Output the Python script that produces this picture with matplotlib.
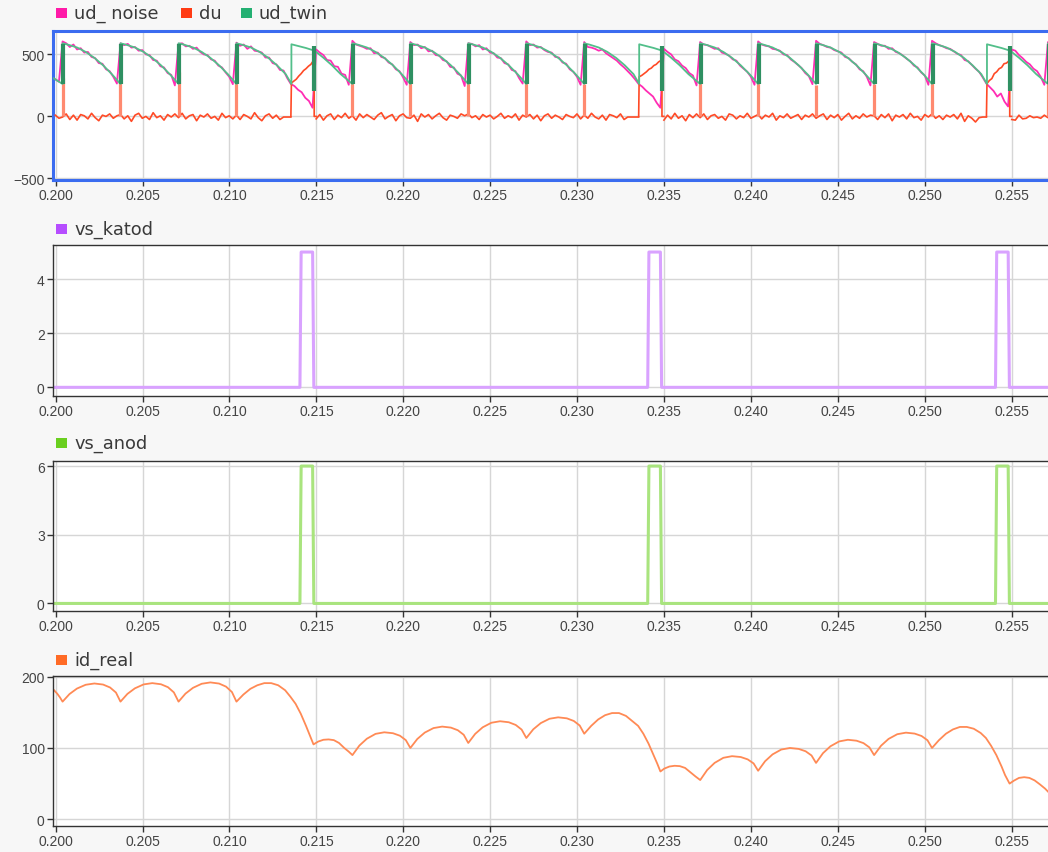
import numpy as np
import matplotlib
matplotlib.use("Agg")
import matplotlib.pyplot as plt
from matplotlib.patches import Rectangle

nan = np.nan

# ---------------- data ----------------
x_ticks = [0.200, 0.205, 0.210, 0.215, 0.220, 0.225, 0.230, 0.235, 0.240, 0.245, 0.250, 0.255]
period = 1 / 300

# instants where ud_twin rises (commutations); indices 4, 10, 16 are the misfires
t_comm = [0.20040, 0.20373, 0.20707, 0.21040, 0.21356, 0.21707, 0.22040, 0.22373, 0.22707,
          0.23040, 0.23356, 0.23707, 0.24040, 0.24373, 0.24707, 0.25040, 0.25356, 0.25707]
anomaly_idx = [4, 10, 16]
t_anom_end = [0.21487, 0.23489, 0.25489]

# ud_twin: per-cycle values at fractions of the period (first value = level before the jump)
twin_tau = [0, 0, 0.1, 0.25, 0.4, 0.55, 0.7, 0.85]
twin_normal = [262, 590, 578, 556, 520, 472, 412, 341]
twin_anom = [262, 582, 570, 552, 530, 474, 412, 341]
twin_rows = [twin_anom if k in anomaly_idx else twin_normal for k in range(len(t_comm))]
twin_pre_t = [0.19960, 0.19985]
twin_pre_v = [330, 310]
band_normal = (265, 588)
band_anom = (205, 565)

# du spikes at the normal commutations
du_spike_h = [311, 350, 360, 290, 290, 338, 284, 311, 262, 290, 280, 257, 262, 270, 290]

# sampled signals (sample step = period / 16)
grid_t0 = 0.1999833
grid_dt = 1 / 4800
ud_noise = [
    300, 280,
    605, 590, 560, 580, 540, 550, 515, 520, 480, 470, 430, 425, 380, 365, 320, 265,
    590, 575, 585, 555, 560, 530, 535, 500, 495, 455, 450, 405, 395, 350, 335, 250,
    585, 590, 565, 570, 545, 555, 520, 500, 495, 460, 450, 410, 395, 355, 320, 260,
    595, 570, 580, 545, 565, 530, 525, 515, 475, 475, 430, 420, 375, 370, 310, 262,
    245, 215, 195, 150, 125, 70, 540, 515, 495, 455, 450, 405, 400, 345, 335, 255,
    610, 580, 570, 560, 545, 550, 510, 515, 480, 470, 435, 420, 380, 365, 315, 255,
    600, 575, 580, 550, 560, 525, 530, 495, 490, 455, 445, 400, 395, 345, 330, 245,
    590, 585, 565, 575, 540, 550, 515, 510, 475, 470, 430, 420, 375, 365, 310, 265,
    605, 575, 580, 555, 560, 535, 520, 515, 480, 475, 435, 425, 380, 360, 320, 255,
    600, 560, 555, 545, 530, 540, 510, 490, 470, 450, 420, 395, 365, 335, 300, 262,
    240, 210, 185, 160, 110, 70, 545, 520, 500, 460, 445, 410, 390, 350, 330, 250,
    600, 580, 575, 560, 545, 550, 515, 505, 490, 460, 450, 410, 385, 360, 320, 255,
    605, 580, 570, 565, 545, 540, 530, 500, 495, 460, 440, 415, 390, 350, 325, 260,
    610, 585, 575, 560, 555, 535, 525, 515, 480, 470, 440, 420, 380, 365, 320, 250,
    600, 585, 570, 570, 545, 550, 520, 510, 490, 465, 445, 410, 395, 355, 330, 255,
    610, 590, 575, 565, 550, 545, 525, 505, 495, 455, 445, 415, 385, 360, 315, 265,
    235, 205, 160, 185, 120, 80, 540, 530, 495, 470, 440, 420, 385, 365, 320, 255,
    600, 585,
]
du = [
    10, -15,
    -5, 20, -25, 10, -30, 15, 5, -20, 25, -10, -35, 10, 0, 20, -15, 5,
    15, -20, 5, -40, 10, 25, -15, 0, -25, 30, -10, 5, -30, 15, -5, 20,
    -10, 25, -20, 5, 15, -35, 10, -5, 20, -15, 0, -30, 25, -10, 5, -20,
    10, -25, 15, 0, -20, 30, -10, -35, 5, 20, -15, 10, -25, -5, -5, -5,
    nan, nan, nan, nan, nan, nan, -20, 15, -30, 5, 20, -25, 10, -10, 25, -15,
    5, -30, 20, -10, 15, -5, -25, 10, 30, -20, 0, 15, -35, 5, 20, -10,
    -15, 10, -40, 20, -5, 15, -20, 5, 25, -10, -30, 10, 0, -15, 20, 5,
    20, -10, 5, -25, 15, -5, 10, -20, 0, 25, -15, 5, -10, 20, -30, 10,
    -5, 15, -20, 10, -35, 5, 20, -15, 10, -5, -25, 15, 0, -10, 20, -20,
    10, -15, 25, -5, -20, 10, -30, 15, 5, -10, 20, -25, -5, -5, -5, -5,
    nan, nan, nan, nan, nan, nan, -30, 10, -20, 25, -15, 5, -35, 15, -10, 20,
    -10, 20, -25, 5, 15, -15, 0, -30, 20, 10, -20, 5, -10, 25, -15, 0,
    15, -20, 10, -5, 25, -30, 5, -10, 20, -15, 0, 15, -25, 10, -5, 20,
    -15, 5, 20, -25, 10, -10, 15, -30, 0, 25, -20, 5, -15, 20, -5, 10,
    5, -25, 15, -10, 20, -35, 10, -5, 15, -20, 25, -10, 0, -30, 15, -5,
    20, -15, 5, -25, 10, -5, 15, -20, 25, -40, 5, -15, -45, -10, -5, -5,
    nan, nan, nan, nan, nan, nan, -25, -30, 10, -20, -15, 5, -10, -5, -15, 10,
    -10, 5,
]
# du during the misfires (time offsets from the misfire start)
du_ramp_offsets = [-0.00003, 0, 0.00014, 0.00028, 0.00042, 0.00056, 0.0007, 0.00084,
                   0.00098, 0.00112, 0.00124, 0.00131, 0.00131, 0.00142]
du_ramp_rows = [
    [0, 270, 285, 300, 325, 345, 370, 385, 405, 420, 445, 460, 0, 0],
    [0, 320, 330, 345, 360, 380, 390, 410, 420, 440, 450, 462, 0, 0],
    [0, 265, 290, 305, 345, 360, 385, 395, 425, 430, 445, 458, 0, 0],
]

vs_katod_t = [0.1995, 0.21405, 0.21412, 0.21478, 0.21485, 0.23405, 0.23412, 0.23478, 0.23485,
              0.25405, 0.25412, 0.25478, 0.25485, 0.2575]
vs_katod_v = [0, 0, 5, 5, 0, 0, 5, 5, 0, 0, 5, 5, 0, 0]
vs_anod_t = [0.1995, 0.21405, 0.21412, 0.21478, 0.21485, 0.23405, 0.23412, 0.23478, 0.23485,
             0.25405, 0.25412, 0.25478, 0.25485, 0.2575]
vs_anod_v = [0, 0, 6, 6, 0, 0, 6, 6, 0, 0, 6, 6, 0, 0]

id_t = [0.19980, 0.19995, 0.20010, 0.20025,
        0.20040, 0.20080, 0.20123, 0.20173, 0.20223, 0.20273, 0.20313, 0.20347,
        0.20373, 0.20413, 0.20456, 0.20506, 0.20556, 0.20606, 0.20646, 0.20680,
        0.20707, 0.20747, 0.20790, 0.20840, 0.20890, 0.20940, 0.20980, 0.21014,
        0.2104, 0.2108, 0.2112, 0.2116, 0.2120, 0.2124, 0.2128, 0.2132, 0.2135, 0.2138, 0.2141, 0.2144, 0.2146,
        0.21483, 0.2151, 0.2154, 0.2157, 0.2160, 0.2163, 0.2166, 0.21685,
        0.21707, 0.21747, 0.21790, 0.21840, 0.21890, 0.21940, 0.21980, 0.22014,
        0.22040, 0.22080, 0.22123, 0.22173, 0.22223, 0.22273, 0.22313, 0.22347,
        0.22373, 0.22413, 0.22456, 0.22506, 0.22556, 0.22606, 0.22646, 0.22680,
        0.22707, 0.22747, 0.22790, 0.22840, 0.22890, 0.22940, 0.22980, 0.23014,
        0.2304, 0.2308, 0.2312, 0.2316, 0.2320, 0.2324, 0.2328, 0.2332, 0.2335, 0.2338, 0.2341, 0.2344, 0.2346,
        0.23478, 0.2350, 0.2353, 0.2356, 0.2359, 0.2362, 0.2365, 0.2368,
        0.23707, 0.23747, 0.23790, 0.23840, 0.23890, 0.23940, 0.23980, 0.24014,
        0.24040, 0.24080, 0.24123, 0.24173, 0.24223, 0.24273, 0.24313, 0.24347,
        0.24373, 0.24413, 0.24456, 0.24506, 0.24556, 0.24606, 0.24646, 0.24680,
        0.24707, 0.24747, 0.24790, 0.24840, 0.24890, 0.24940, 0.24980, 0.25014,
        0.2504, 0.2508, 0.2512, 0.2516, 0.2520, 0.2524, 0.2528, 0.2532, 0.2535, 0.2538, 0.2541, 0.2544, 0.2546,
        0.25486, 0.2551, 0.2554, 0.2557, 0.2560, 0.2563, 0.2566, 0.2569, 0.2571]
id_v = [184, 180, 176, 171,
        165, 175.7, 183.4, 188.7, 190.5, 189.0, 184.9, 177.8,
        165, 175.9, 183.7, 189.2, 191, 189.4, 185.3, 178,
        165, 176.3, 184.4, 190.1, 192, 190.4, 186.1, 178.5,
        165, 175, 183, 188, 191, 191, 188, 181, 172, 162, 148, 131, 119,
        105, 109, 111.5, 112, 111, 107, 100, 95,
        90, 103.4, 113, 119.8, 122, 120.7, 117.2, 111,
        100, 112.6, 121.6, 127.9, 130, 128.6, 124.9, 118.5,
        107, 119.8, 129, 135.4, 137.5, 136.1, 132.3, 125.8,
        114, 126.2, 134.9, 141, 143, 141.6, 137.9, 131.5,
        120, 131, 140, 146, 149, 149, 145, 137, 131, 120, 106, 89, 78,
        67, 71, 74, 75, 74.5, 72, 66, 60,
        55, 69.1, 79.1, 86.2, 88.5, 87.3, 84, 78.3,
        68, 81.4, 91, 97.8, 100, 98.7, 95.4, 89.5,
        79, 92.7, 102.4, 109.2, 111.5, 110.2, 106.8, 100.8,
        90, 103.2, 112.7, 119.3, 121.5, 120.2, 116.8, 110.8,
        100, 111, 120, 126, 129.5, 129.5, 127, 121, 114, 103, 90, 74, 62,
        50, 54, 58, 59, 58, 54.5, 49, 43, 38]

series_names = [["ud_ noise", "du", "ud_twin"], ["vs_katod"], ["vs_anod"], ["id_real"]]
legend_colors = [["#ff1aa8", "#ff3b14", "#24b072"], ["#b64dff"], ["#6acf1f"], ["#ff6b26"]]

# ---------------- figure ----------------
W, H = 1048, 853
fig = plt.figure(figsize=(W / 100, H / 100), dpi=100, facecolor="#f7f7f7")
panels_px = [(32, 181), (246, 397), (462, 612), (677, 827)]
ylims = [(-513, 689), (-0.32, 5.26), (-0.33, 6.22), (-9.5, 201)]
yticks = [[-500, 0, 500], [0, 2, 4], [0, 3, 6], [0, 100, 200]]
legend_y = [14, 230, 444, 661]
legend_sq_x = [[56, 181, 241], [56], [56], [56]]

axes = []
for i, (top, bot) in enumerate(panels_px):
    ax = fig.add_axes([53 / W, 1 - bot / H, (W - 53) / W, (bot - top) / H])
    ax.set_facecolor("white")
    ax.set_xlim(0.19985, 0.25707)
    ax.set_ylim(*ylims[i])
    ax.set_xticks(x_ticks)
    ax.set_xticklabels([f"{v:.3f}" for v in x_ticks])
    ax.set_yticks(yticks[i])
    ax.grid(True, color="#d6d6d6", lw=1)
    ax.set_axisbelow(True)
    ax.spines["right"].set_visible(False)
    for s in ["left", "top", "bottom"]:
        ax.spines[s].set_color("#333333")
        ax.spines[s].set_linewidth(1)
    ax.tick_params(length=4, width=1, color="#333333", labelcolor="#444444", labelsize=10, pad=2)
    for lab in ax.get_xticklabels() + ax.get_yticklabels():
        lab.set_fontfamily("Liberation Sans")
    axes.append(ax)

    for j, (name, col) in enumerate(zip(series_names[i], legend_colors[i])):
        sx = legend_sq_x[i][j]
        yc = legend_y[i]
        fig.patches.append(Rectangle((sx / W, 1 - (yc + 5) / H), 11 / W, 10 / H,
                                     transform=fig.transFigure, facecolor=col, edgecolor="none"))
        fig.text((sx + 18) / W, 1 - yc / H, name, ha="left", va="center",
                 fontsize=12.8, color="#3a3a3a", family="DejaVu Sans")

# top panel selected: blue frame
for s in ["left", "top", "bottom"]:
    axes[0].spines[s].set_color("#3b6cf0")
    axes[0].spines[s].set_linewidth(2.2)

ax = axes[0]
t_grid = grid_t0 + grid_dt * np.arange(len(ud_noise))
ax.plot(t_grid, ud_noise, color="#ff2db4", lw=1.3, zorder=3)
ax.plot(t_grid, du, color="#ff4a26", lw=1.2, zorder=4)
for a, k in enumerate(anomaly_idx):
    rt = [t_comm[k] + o for o in du_ramp_offsets]
    ax.plot(rt, du_ramp_rows[a], color="#ff4a26", lw=1.2, zorder=4)
normal_idx = [k for k in range(len(t_comm)) if k not in anomaly_idx]
ax.vlines([t_comm[k] for k in normal_idx], 0, du_spike_h, color="#ff8a70", lw=2.3, zorder=4)

tw_t = list(twin_pre_t)
tw_v = list(twin_pre_v)
for tc, row in zip(t_comm, twin_rows):
    for tau, v in zip(twin_tau, row):
        tw_t.append(tc + tau * period)
        tw_v.append(v)
ax.plot(tw_t, tw_v, color="#52bf8a", lw=1.3, zorder=5)
ax.vlines([t_comm[k] + 0.00004 for k in normal_idx], band_normal[0], band_normal[1],
          color="#2f9062", lw=3, zorder=6)
ax.vlines(t_anom_end, band_anom[0], band_anom[1], color="#2f9062", lw=3, zorder=6)

axes[1].plot(vs_katod_t, vs_katod_v, color="#d9a2ff", lw=2.2, solid_joinstyle="round")
axes[2].plot(vs_anod_t, vs_anod_v, color="#a9e47e", lw=2.2, solid_joinstyle="round")
axes[3].plot(id_t, id_v, color="#ff8a55", lw=1.3)

fig.savefig("out.png", dpi=100, facecolor=fig.get_facecolor())
